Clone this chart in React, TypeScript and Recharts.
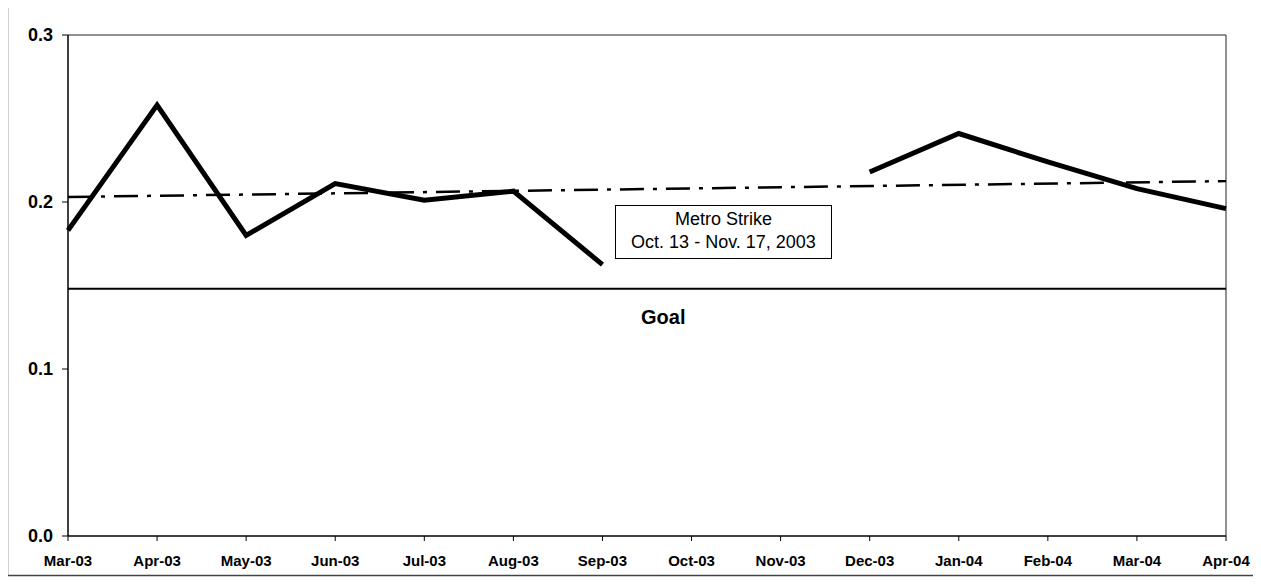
import { LineChart, Line, XAxis, YAxis, ReferenceLine } from 'recharts'

const months = [
  'Mar-03', 'Apr-03', 'May-03', 'Jun-03', 'Jul-03', 'Aug-03', 'Sep-03',
  'Oct-03', 'Nov-03', 'Dec-03', 'Jan-04', 'Feb-04', 'Mar-04', 'Apr-04',
]
// strike months have no value
const rate = [0.183, 0.258, 0.18, 0.211, 0.201, 0.2065, 0.1625, null, null, 0.218, 0.241, 0.224, 0.208, 0.196]
// trendline endpoints only
const trend = [0.203, null, null, null, null, null, null, null, null, null, null, null, null, 0.2125]
const goal = 0.148
const yTicks = [0, 0.1, 0.2, 0.3]

const data = months.map((m, i) => ({ month: m, rate: rate[i], trend: trend[i] }))

const FONT = '"Liberation Sans", Arial, sans-serif'

export default function App() {
  return (
    <div style={{ position: 'relative', width: 1261, height: 587, margin: '-8px 0 0 -8px', fontFamily: FONT, background: '#fff', overflow: 'hidden' }}>
      <LineChart width={1261} height={587} data={data} margin={{ top: 35, right: 35, left: 0, bottom: 21 }}>
        {/* outer frame of the scanned page */}
        <path d="M 1261 5.5 H 7.5 V 575.5 H 1261" fill="none" stroke="#444" strokeWidth={1.5} />
        <XAxis
          dataKey="month"
          height={30}
          tickSize={5}
          tickMargin={14}
          axisLine={{ stroke: '#000', strokeWidth: 1.5 }}
          tickLine={{ stroke: '#000' }}
          tick={{ fill: '#000', fontSize: 15, fontWeight: 'bold', fontFamily: FONT }}
          interval={0}
        />
        <YAxis
          width={68}
          domain={[0, 0.3]}
          ticks={yTicks}
          tickFormatter={v => v.toFixed(1)}
          tickSize={6}
          tickMargin={9}
          axisLine={{ stroke: '#000', strokeWidth: 1.5 }}
          tickLine={{ stroke: '#000' }}
          tick={{ fill: '#000', fontSize: 18, fontWeight: 'bold', fontFamily: FONT }}
        />
        <ReferenceLine y={0.3} stroke="#222" strokeWidth={1} />
        <ReferenceLine x="Apr-04" stroke="#222" strokeWidth={1} />
        <ReferenceLine
          y={goal}
          stroke="#000"
          strokeWidth={2}
          label={({ viewBox }: any) => (
            <text
              x={viewBox.x + viewBox.width * 0.514}
              y={viewBox.y + 35}
              textAnchor="middle"
              fontSize={20}
              fontWeight="bold"
              fontFamily={FONT}
              fill="#000"
            >
              Goal
            </text>
          )}
        />
        <Line
          dataKey="trend"
          stroke="#000"
          strokeWidth={2.5}
          strokeDasharray="24 9 4 9"
          dot={false}
          connectNulls
          isAnimationActive={false}
        />
        <Line
          dataKey="rate"
          stroke="#000"
          strokeWidth={5}
          dot={false}
          strokeLinejoin="miter"
          isAnimationActive={false}
        />
      </LineChart>
      <div
        style={{
          position: 'absolute', left: 615, top: 205, width: 217, height: 54, boxSizing: 'border-box',
          border: '1.5px solid #000', background: '#fff', textAlign: 'center',
          fontSize: 18, lineHeight: '23px', paddingTop: 2, color: '#000', whiteSpace: 'nowrap',
        }}
      >
        Metro Strike
        <br />
        Oct. 13 - Nov. 17, 2003
      </div>
    </div>
  )
}
